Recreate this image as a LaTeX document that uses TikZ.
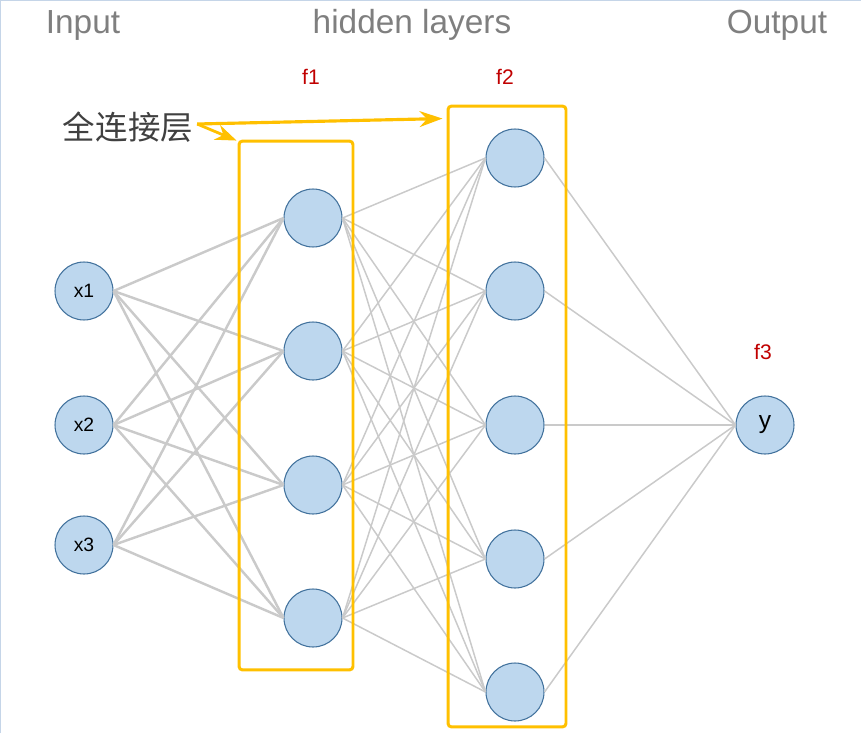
\documentclass[tikz,border=0pt]{standalone}
\usepackage{fontspec}
\setmainfont{Liberation Sans}
\newfontfamily\cjkfont{Noto Sans CJK SC}
\usetikzlibrary{arrows.meta,positioning,calc}

\definecolor{neuronfill}{HTML}{BDD7EE}
\definecolor{neurondraw}{HTML}{41719C}
\definecolor{edgegray}{HTML}{CACACA}
\definecolor{boxyellow}{HTML}{FFC000}
\definecolor{flabelred}{HTML}{C00000}
\definecolor{titlegray}{HTML}{7F7F7F}
\definecolor{textgray}{HTML}{404040}
\definecolor{framecol}{HTML}{C5D5E8}

\tikzset{
  neuron/.style={circle, draw=neurondraw, fill=neuronfill, line width=0.6pt,
    minimum size=1.16cm, inner sep=0pt, font=\fontsize{11}{13}\selectfont},
  title/.style={draw=none, text=titlegray, font=\fontsize{19}{22}\selectfont},
  flabel/.style={draw=none, text=flabelred, font=\fontsize{12}{14}\selectfont},
  thickedge/.style={draw=edgegray, line width=1.4pt},
  thinedge/.style={draw=edgegray, line width=0.85pt},
  layerbox/.style={draw=boxyellow, line width=1.7pt, rounded corners=2pt, inner sep=0pt}
}

\begin{document}
\begin{tikzpicture}[x=0.02cm,y=-0.02cm]
\useasboundingbox (0,0) rectangle (861,733);

% frame lines
\draw[framecol, line width=0.6pt] (0.3,733) -- (0.3,0.3) -- (861,0.3);

% Titles
\node[title] (tin) at (83,25) {Input};
\node[title] (thid) at (412,25) {hidden layers};
\node[title] (tout) at (777,25) {Output};

% Input layer
\foreach \i/\y in {1/291,2/425,3/545}
  \node[neuron] (in\i) at (84,\y) {x\i};

% Hidden layer f1
\foreach \i/\y in {1/218,2/351,3/485,4/618}
  \node[neuron] (ha\i) at (313,\y) {};

% Hidden layer f2
\foreach \i/\y in {1/158,2/291,3/425,4/559,5/692}
  \node[neuron] (hb\i) at (515,\y) {};

% Output
\node[neuron, font=\fontsize{14}{16}\selectfont] (out) at (765,425) {y};

% Connections
\foreach \i in {1,2,3}
  \foreach \j in {1,...,4}
    \draw[thickedge] (in\i.east) -- (ha\j.west);
\foreach \i in {1,...,4}
  \foreach \j in {1,...,5}
    \draw[thinedge] (ha\i.east) -- (hb\j.west);
\foreach \j in {1,...,5}
  \draw[thinedge] (hb\j.east) -- (out.west);

% Fully connected boxes
\node[layerbox, minimum width=2.28cm, minimum height=10.58cm] (box1) at (296,405.5) {};
\node[layerbox, minimum width=2.36cm, minimum height=12.42cm] (box2) at (507,416.5) {};

% Layer labels
\node[flabel] (f1) at (311,77) {f1};
\node[flabel] (f2) at (505,77) {f2};
\node[flabel] (f3) at (763,352) {f3};

% Annotation
\node[draw=none, text=textgray, font=\cjkfont\fontsize{18.5}{20}\selectfont, inner sep=1pt] (fc) at (128,127) {全连接层};
\draw[boxyellow, line width=1.6pt, -{Stealth[length=12pt, width=9pt]}] ($(fc.east)+(2,-3)$) -- ($(box1.north west)+(-1,1)$);
\draw[boxyellow, line width=1.8pt, -{Stealth[length=13pt, width=9pt]}] ($(fc.east)+(2,-3)$) -- ($(box2.north west)+(-4,14)$);

\end{tikzpicture}
\end{document}
